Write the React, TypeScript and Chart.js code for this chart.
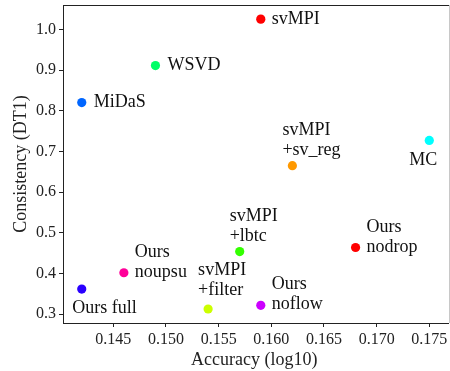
import React, { useEffect, useRef } from "react";
import { Chart, registerables } from "chart.js";

Chart.register(...registerables);

const FONT = '"Liberation Serif", "Times New Roman", serif';

// Method names (each entry = lines of the annotation)
const methodLabels: string[][] = [
  ["svMPI"],
  ["WSVD"],
  ["MiDaS"],
  ["svMPI", "+sv_reg"],
  ["MC"],
  ["Ours full"],
  ["Ours", "noupsu"],
  ["svMPI", "+filter"],
  ["svMPI", "+lbtc"],
  ["Ours", "noflow"],
  ["Ours", "nodrop"],
];

const accuracy = [0.159, 0.149, 0.142, 0.162, 0.175, 0.142, 0.146, 0.154, 0.157, 0.159, 0.168];
const consistency = [1.025, 0.911, 0.82, 0.665, 0.727, 0.362, 0.402, 0.313, 0.454, 0.322, 0.464];

const pointColors = [
  "#ff0000",
  "#00ff66",
  "#0066ff",
  "#ff9900",
  "#00ffff",
  "#2a00ff",
  "#ff0099",
  "#ccff00",
  "#33ff00",
  "#cc00ff",
  "#ff0000",
];

const xTicks = [0.145, 0.15, 0.155, 0.16, 0.165, 0.17, 0.175];
const yTicks = [0.3, 0.4, 0.5, 0.6, 0.7, 0.8, 0.9, 1.0];

// label placement (pixel offset of the last line's baseline-left from the point)
const labelPlacement: [number, number][] = [
  [11, 4.5],
  [12, 4],
  [12, 4.5],
  [-10, -11],
  [-20, 25],
  [-9.5, 24.3],
  [11, 4],
  [-10, -14],
  [-10, -10.7],
  [11, 4],
  [11, 4],
];

const LINE_GAP = 20;

const labelPlugin = {
  id: "pointLabels",
  afterDatasetsDraw(chart: any) {
    const meta = chart.getDatasetMeta(0);
    const ctx = chart.ctx;
    ctx.save();
    ctx.font = `18px ${FONT}`;
    ctx.fillStyle = "#111";
    ctx.textAlign = "left";
    ctx.textBaseline = "alphabetic";
    meta.data.forEach((el: any, i: number) => {
      const lines = methodLabels[i];
      const [dx, dy] = labelPlacement[i];
      const n = lines.length;
      lines.forEach((line, j) => {
        ctx.fillText(line, el.x + dx, el.y + dy - (n - 1 - j) * LINE_GAP);
      });
    });
    ctx.restore();
  },
};

// top spine across the full plot width and a faint right spine at the canvas edge
const framePlugin = {
  id: "frame",
  afterDraw(chart: any) {
    const { ctx, chartArea, width } = chart;
    const rightX = width - 1;
    ctx.save();
    ctx.lineWidth = 1;
    ctx.strokeStyle = "#222";
    ctx.beginPath();
    ctx.moveTo(chartArea.left, chartArea.top + 0.5);
    ctx.lineTo(rightX, chartArea.top + 0.5);
    ctx.stroke();
    // extend bottom spine to the right edge
    ctx.beginPath();
    ctx.moveTo(chartArea.right, chartArea.bottom + 0.5);
    ctx.lineTo(rightX, chartArea.bottom + 0.5);
    ctx.stroke();
    ctx.strokeStyle = "#c8c8c8";
    ctx.beginPath();
    ctx.moveTo(rightX + 0.5, chartArea.top);
    ctx.lineTo(rightX + 0.5, chartArea.bottom);
    ctx.stroke();
    ctx.restore();
  },
};

export default function App() {
  const ref = useRef<HTMLCanvasElement | null>(null);

  useEffect(() => {
    document.body.style.margin = "0";
    if (!ref.current) return;
    const chart = new Chart(ref.current, {
      type: "scatter",
      data: {
        datasets: [
          {
            data: accuracy.map((x, i) => ({ x, y: consistency[i] })),
            backgroundColor: pointColors,
            borderWidth: 0,
            pointRadius: 4.6,
            pointHoverRadius: 4.6,
          },
        ],
      },
      options: {
        responsive: false,
        animation: false,
        devicePixelRatio: 1,
        layout: { padding: { top: 5, right: 0, left: 0, bottom: 0 } },
        plugins: {
          legend: { display: false },
          tooltip: { enabled: false },
        },
        scales: {
          x: {
            type: "linear",
            min: 0.14022,
            max: 0.17653,
            afterBuildTicks: (s: any) => {
              s.ticks = xTicks.map((v) => ({ value: v }));
            },
            afterFit: (s: any) => {
              s.height = 48;
              s.paddingLeft = 0;
              s.paddingRight = 0;
            },
            ticks: {
              callback: (v: any) => Number(v).toFixed(3),
              font: { family: FONT, size: 16 },
              color: "#222",
              padding: 3,
              maxRotation: 0,
              autoSkip: false,
            },
            grid: { drawOnChartArea: false, drawTicks: true, tickLength: 4, color: "#222" },
            border: { display: true, color: "#222", width: 1 },
            title: {
              display: true,
              text: "Accuracy (log10)",
              font: { family: FONT, size: 18 },
              color: "#222",
              padding: { top: 2, bottom: 0 },
            },
          },
          y: {
            type: "linear",
            min: 0.2786,
            max: 1.0597,
            afterBuildTicks: (s: any) => {
              s.ticks = yTicks.map((v) => ({ value: v }));
            },
            afterFit: (s: any) => {
              s.width = 63;
              s.paddingTop = 0;
              s.paddingBottom = 0;
            },
            ticks: {
              callback: (v: any) => Number(v).toFixed(1),
              font: { family: FONT, size: 16 },
              color: "#222",
              padding: 3,
              autoSkip: false,
            },
            grid: { drawOnChartArea: false, drawTicks: true, tickLength: 4, color: "#222" },
            border: { display: true, color: "#222", width: 1 },
            title: {
              display: true,
              text: "Consistency (DT1)",
              font: { family: FONT, size: 18 },
              color: "#222",
              padding: { top: 10, bottom: 0 },
            },
          },
        },
      },
      plugins: [labelPlugin, framePlugin],
    });
    return () => chart.destroy();
  }, []);

  return (
    <div style={{ width: 450, height: 371 }}>
      <canvas ref={ref} width={450} height={371} />
    </div>
  );
}
